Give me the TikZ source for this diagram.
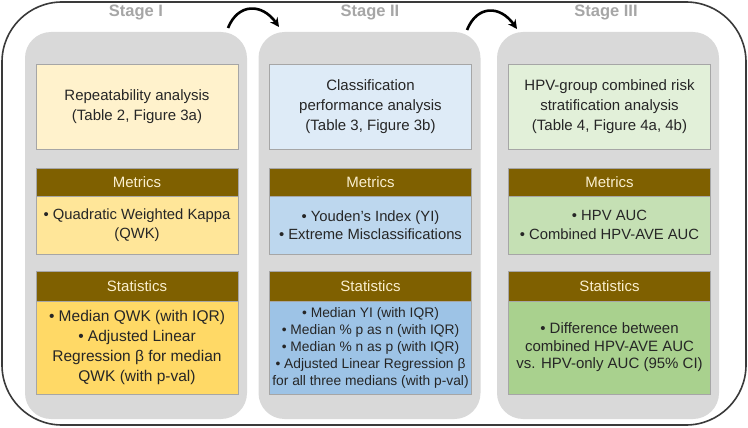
\documentclass[tikz,border=0pt]{standalone}
\usepackage{fontspec}
\setmainfont{Liberation Sans}
\usetikzlibrary{arrows.meta}
\definecolor{panelgray}{HTML}{D9D9D9}
\definecolor{bordergray}{HTML}{A6A6A6}
\definecolor{hdrbrown}{HTML}{7F6000}
\definecolor{hdrtext}{HTML}{FAEFCF}
\definecolor{textdark}{HTML}{262626}
\definecolor{stagegray}{HTML}{A6A6A6}
\definecolor{framecol}{HTML}{3A3A3A}
\definecolor{yA}{HTML}{FFF2CC}
\definecolor{yB}{HTML}{FFE699}
\definecolor{yC}{HTML}{FFD966}
\definecolor{bA}{HTML}{DEEBF7}
\definecolor{bB}{HTML}{BDD7EE}
\definecolor{bC}{HTML}{9DC3E6}
\definecolor{gA}{HTML}{E2F0D9}
\definecolor{gB}{HTML}{C5E0B4}
\definecolor{gC}{HTML}{A9D18E}
\begin{document}
\begin{tikzpicture}[x=1pt,y=-1pt,
  frame/.style={draw=framecol, line width=1.6pt, rounded corners=60pt, minimum width=744pt, minimum height=423pt, inner sep=0pt},
  panel/.style={fill=panelgray, rounded corners=26pt, minimum width=222pt, minimum height=387pt, inner sep=0pt},
  stagelbl/.style={text=stagegray, font=\fontsize{16.5}{18}\selectfont\bfseries, inner sep=0pt},
  box/.style={draw=bordergray, line width=0.8pt, minimum width=202pt, align=center, text=textdark, inner sep=0pt},
  topbox/.style={box, minimum height=85pt, font=\fontsize{15}{20}\selectfont},
  hdr/.style={box, fill=hdrbrown, text=hdrtext, minimum height=28pt, font=\fontsize{15}{18}\selectfont},
  hdrs/.style={hdr, minimum height=30pt},
  metbody/.style={box, minimum height=58pt, font=\fontsize{14.8}{18.5}\selectfont},
  statbody/.style={box, minimum height=93pt},
  flow/.style={-{Stealth[length=9pt,width=9pt]}, line width=2.6pt, black}
]
\useasboundingbox (0,0) rectangle (748,428);

\node[frame] (outer) at (374,213.5) {};

% panels
\node[panel] (p1) at (136,225.5) {};
\node[panel] (p2) at (369.5,225.5) {};
\node[panel] (p3) at (608,225.5) {};

% stage labels
\node[stagelbl] (s1) at (136,12) {Stage I};
\node[stagelbl] (s2) at (370,12) {Stage II};
\node[stagelbl] (s3) at (606,12) {Stage III};

% arrows
\coordinate (a1s) at (228,28);
\coordinate (a1e) at (279,27);
\coordinate (a2s) at (467,30);
\coordinate (a2e) at (517,29);
\draw[flow] (a1s) .. controls (238,3) and (262,3) .. (a1e);
\draw[flow] (a2s) .. controls (477,5) and (500,5) .. (a2e);

% Stage I
\node[topbox, fill=yA] (t1) at (137,107) {Repeatability analysis\\(Table 2, Figure 3a)};
\node[hdr] (mh1) at (137,182) {Metrics};
\node[metbody, fill=yB] (mb1) at (137,225) {• Quadratic Weighted Kappa\\(QWK)};
\node[hdrs] (sh1) at (137,286) {Statistics};
\node[statbody, fill=yC, font=\fontsize{15.5}{20}\selectfont] (sb1) at (137,347.5) {• Median QWK (with IQR)\\• Adjusted Linear\\Regression β for median\\QWK (with p-val)};

% Stage II
\node[topbox, fill=bA] (t2) at (370.5,107) {Classification\\performance analysis\\(Table 3, Figure 3b)};
\node[hdr] (mh2) at (370.5,182) {Metrics};
\node[metbody, fill=bB] (mb2) at (370.5,225) {• Youden’s Index (YI)\\• Extreme Misclassifications};
\node[hdrs] (sh2) at (370.5,286) {Statistics};
\node[statbody, fill=bC, font=\fontsize{13.8}{17}\selectfont] (sb2) at (370.5,347.5) {• Median YI (with IQR)\\• Median \% p as n (with IQR)\\• Median \% n as p (with IQR)\\• Adjusted Linear Regression β\\for all three medians (with p-val)};

% Stage III
\node[topbox, fill=gA] (t3) at (609.5,107) {HPV-group combined risk\\stratification analysis\\(Table 4, Figure 4a, 4b)};
\node[hdr] (mh3) at (609.5,182) {Metrics};
\node[metbody, fill=gB] (mb3) at (609.5,225) {• HPV AUC\\• Combined HPV-AVE AUC};
\node[hdrs] (sh3) at (609.5,286) {Statistics};
\node[statbody, fill=gC, font=\fontsize{15}{17.5}\selectfont] (sb3) at (609.5,347.5) {• Difference between\\combined HPV-AVE AUC\\vs. HPV-only AUC (95\% CI)};
\end{tikzpicture}
\end{document}
